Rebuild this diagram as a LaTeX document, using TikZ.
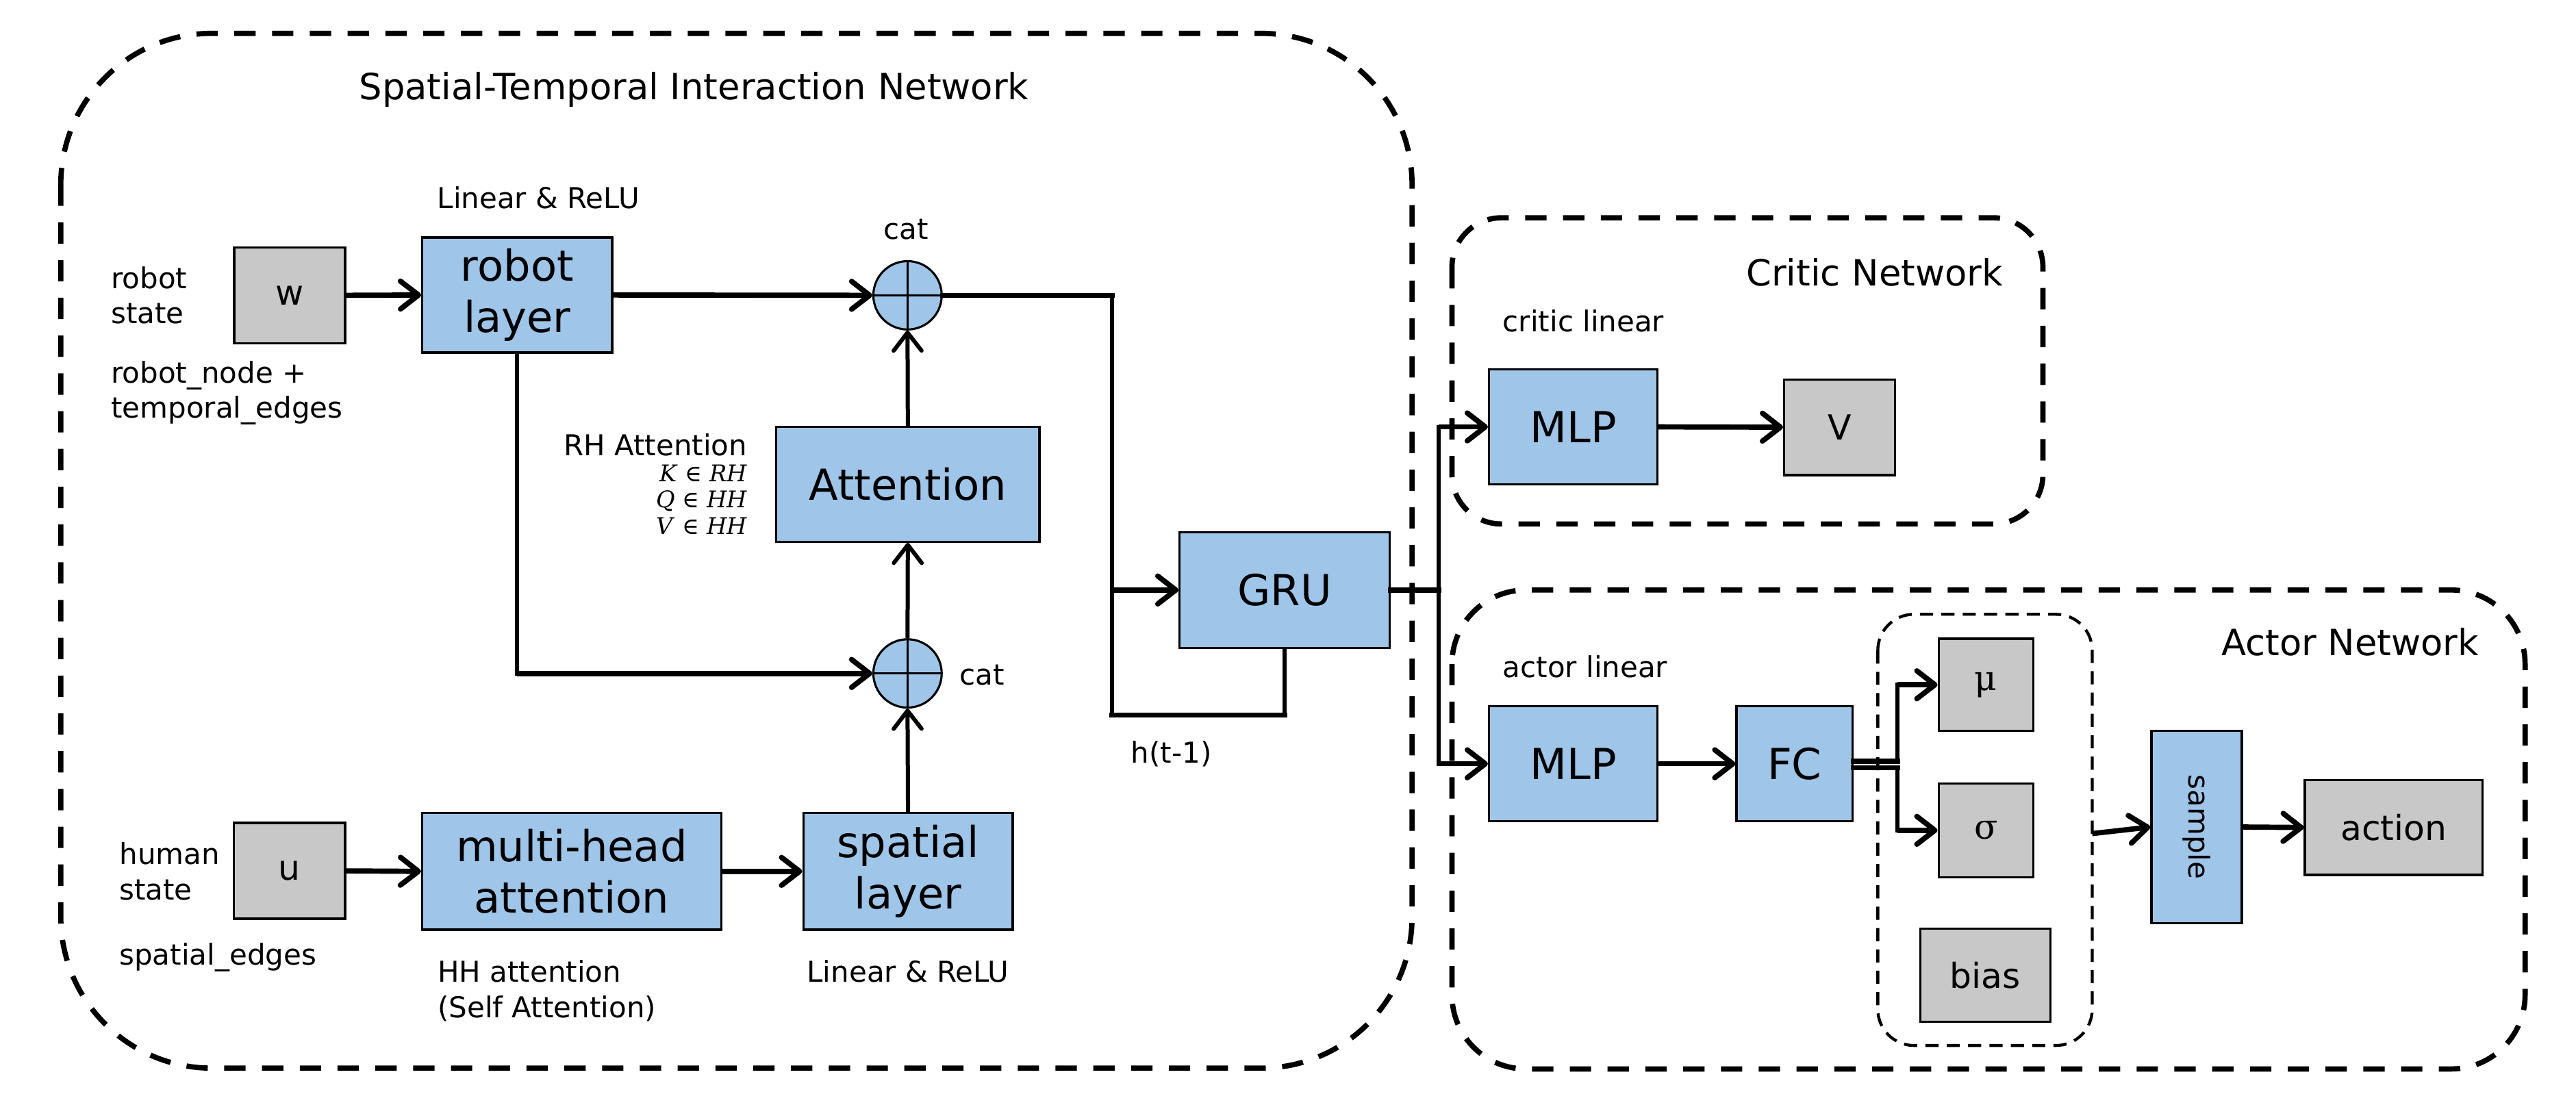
\documentclass[tikz,border=0pt]{standalone}
\usepackage{fontspec}
\usepackage{graphicx}
\setmainfont{DejaVu Sans}
\newfontfamily\dvserif{DejaVu Serif}
\usetikzlibrary{arrows.meta}
\definecolor{boxblue}{HTML}{9FC5E8}
\definecolor{boxgray}{HTML}{C8C8C8}
\newcommand\fttl{\fontsize{22}{26}\selectfont}
\newcommand\flbl{\fontsize{17.5}{21.5}\selectfont}
\newcommand\fbig{\fontsize{26}{31}\selectfont}
\newcommand\fgry{\fontsize{21}{25}\selectfont}
\newcommand\fmth{\fontsize{14}{16}\selectfont}
\begin{document}
\begin{tikzpicture}[x=1pt,y=-1pt,
  blk/.style={draw, line width=1.4pt, inner sep=0pt, align=center},
  bluebox/.style={blk, fill=boxblue, font=\fbig},
  graybox/.style={blk, fill=boxgray, font=\fgry},
  catnode/.style={circle, draw, line width=1.3pt, fill=boxblue, minimum size=41.6pt, inner sep=0pt},
  lbl/.style={inner sep=0pt, font=\flbl, align=left, anchor=west},
  ttl/.style={inner sep=0pt, font=\fttl},
  tipa/.tip={Straight Barb[length=11pt,width=17pt,round]},
  arr/.style={line width=3.2pt, -tipa},
  arrv/.style={line width=2.5pt, -tipa},
  hw/.style={line width=3.2pt, line cap=rect},
  vw/.style={line width=2.5pt, line cap=rect},
  grp/.style={line width=3.2pt, dash pattern=on 13pt off 10pt},
  subgrp/.style={line width=1.8pt, dash pattern=on 8pt off 5pt}
]
\useasboundingbox (0,0) rectangle (1568,673.6);

% containers
\draw[grp, rounded corners=92pt] (37,20.3) rectangle (859.5,650.3);
\draw[grp, rounded corners=30pt] (883.8,132.6) rectangle (1243.5,319);
\draw[grp, rounded corners=45pt] (883.8,359.2) rectangle (1537,650.8);
\draw[subgrp, rounded corners=22pt] (1143,374) rectangle (1273.5,636.5);
\coordinate (grpout) at (1273.5,507.5);

% titles
\node[ttl] (tstin) at (422.4,54.5) {Spatial-Temporal Interaction Network};
\node[ttl] (tcrit) at (1141,166) {Critic Network};
\node[ttl] (tact) at (1430.5,391) {Actor Network};

% STIN blocks
\node[graybox, minimum width=67.5pt, minimum height=58.5pt] (w) at (176.3,179.8) {w};
\node[bluebox, minimum width=115.5pt, minimum height=70pt] (robot) at (314.8,179.6) {robot\\layer};
\node[catnode] (c1) at (552.4,179.8) {};
\node[bluebox, minimum width=160.2pt, minimum height=69.8pt] (att) at (552.6,294.9) {Attention};
\node[catnode] (c2) at (552.4,410) {};
\node[bluebox, minimum width=127.8pt, minimum height=70.4pt] (gru) at (781.9,359.2) {GRU};
\node[graybox, minimum width=67.6pt, minimum height=58.3pt] (u) at (176.2,530.2) {u};
\node[bluebox, minimum width=182pt, minimum height=71pt] (mha) at (348,530.5) {multi-head\\attention};
\node[bluebox, minimum width=127.4pt, minimum height=71pt] (spat) at (552.7,530.5) {spatial\\layer};

\draw[line width=1.3pt] (c1.north) -- (c1.south) (c1.west) -- (c1.east);
\draw[line width=1.3pt] (c2.north) -- (c2.south) (c2.west) -- (c2.east);

% STIN labels
\node[lbl] (rs) at (67.5,179.8) {robot\\state};
\node[lbl] (rn) at (67.5,239.2) {robot\_node +\\temporal\_edges};
\node[lbl] (hs) at (72.5,530.5) {human\\state};
\node[lbl] (se) at (72.5,582.8) {spatial\_edges};
\node[lbl] (lr1) at (266,120.6) {Linear \& ReLU};
\node[lbl] (lr2) at (491,591.3) {Linear \& ReLU};
\node[lbl] (hh) at (266.2,603.3) {HH attention\\(Self Attention)};
\node[lbl, anchor=east, align=right] (rh) at (455,270.8) {RH Attention};
\node[inner sep=0pt, anchor=east, align=right, font=\fmth\dvserif] (kqv) at (455,304)
  {\textit{K} ∈ \textit{RH}\\\textit{Q} ∈ \textit{HH}\\\textit{V} ∈ \textit{HH}};
\node[inner sep=0pt, font=\flbl] (cl1) at (551.5,139.8) {cat};
\node[inner sep=0pt, font=\flbl] (cl2) at (597.7,411) {cat};
\node[inner sep=0pt, font=\flbl] (ht) at (713,459) {h(t-1)};

% STIN connectors
\coordinate (j1) at (677,179.8);
\coordinate (j2) at (677,435.3);
\coordinate (j3) at (677,359.2);
\coordinate (rc) at (robot.south |- c2.west);
\coordinate (gl) at (gru.south |- j2);
\draw[arr] (w.east) -- (robot.west);
\draw[arr] (robot.east) -- (c1.west);
\draw[hw] (c1.east) -- (j1);
\draw[vw] (j1) -- (j2);
\draw[arr] (j3) -- (gru.west);
\draw[arrv] (att.north) -- (c1.south);
\draw[arrv] (c2.north) -- (att.south);
\draw[arrv] (spat.north) -- (c2.south);
\draw[vw] (robot.south) -- (rc);
\draw[arr] (rc) -- (c2.west);
\draw[arr] (u.east) -- (mha.west);
\draw[arr] (mha.east) -- (spat.west);
\draw[vw] (gru.south) -- (gl);
\draw[hw] (gl) -- (j2);

% critic
\node[lbl] (cl) at (914.6,195.5) {critic linear};
\node[bluebox, minimum width=102.4pt, minimum height=70.2pt] (cmlp) at (957.6,259.9) {MLP};
\node[graybox, minimum width=67.5pt, minimum height=58.2pt] (v) at (1119.8,260.1) {V};

% actor
\node[lbl] (al) at (914.6,406) {actor linear};
\node[bluebox, minimum width=102.4pt, minimum height=70pt] (amlp) at (957.6,465) {MLP};
\node[bluebox, minimum width=70.5pt, minimum height=70pt] (fc) at (1092.3,465) {FC};
\node[graybox, minimum width=57.5pt, minimum height=56.2pt, font=\fgry\dvserif] (mu) at (1208.8,416.9) {μ};
\node[graybox, minimum width=57.5pt, minimum height=57pt, font=\fgry\dvserif] (sig) at (1208.8,505.5) {σ};
\node[graybox, minimum width=79pt, minimum height=56.6pt] (bias) at (1208.5,593.7) {bias};
\node[bluebox, minimum width=55pt, minimum height=117pt, font=\flbl] (smp) at (1337.1,503.5) {\rotatebox{-90}{sample}};
\node[graybox, minimum width=108pt, minimum height=57.6pt] (act) at (1457,503.8) {action};

% heads connectors
\coordinate (b1) at (875.8,359.2);
\coordinate (bt) at (b1 |- cmlp.west);
\coordinate (bb) at (b1 |- amlp.west);
\draw[hw] (gru.east) -- (b1);
\draw[vw] (bt) -- (bb);
\draw[arr] (bt) -- (cmlp.west);
\draw[arr] (bb) -- (amlp.west);
\draw[arr] (cmlp.east) -- (v.west);
\draw[arr] (amlp.east) -- (fc.west);
\coordinate (fu) at (1155,463.6);
\coordinate (fd) at (1155,467.4);
\coordinate (fmu) at (fu |- mu.west);
\coordinate (fsg) at (fd |- sig.west);
\draw[hw] (fc.east |- fu) -- (fu);
\draw[hw] (fc.east |- fd) -- (fd);
\draw[vw] (fu) -- (fmu);
\draw[vw] (fd) -- (fsg);
\draw[arr] (fmu) -- (mu.west);
\draw[arr] (fsg) -- (sig.west);
\draw[arr] (grpout) -- (smp.west);
\draw[arr] (smp.east) -- (act.west);
\end{tikzpicture}
\end{document}
